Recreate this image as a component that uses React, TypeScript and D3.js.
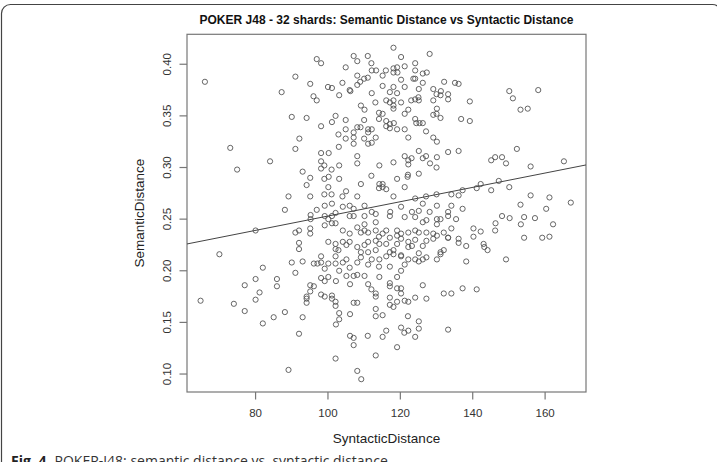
import React from "react";
import * as d3 from "d3";

// syntactic distance (x) vs semantic distance (y), one pair per shard comparison
const shardPairs: [number, number][] = [
  [118.1, 0.416], [107.1, 0.408], [111.0, 0.408], [128.1, 0.41], [96.9, 0.405],
  [98.1, 0.401], [108.1, 0.403], [120.2, 0.407], [112.0, 0.401], [124.1, 0.401],
  [119.1, 0.397], [118.1, 0.396], [121.2, 0.398], [104.9, 0.397], [112.1, 0.394],
  [113.3, 0.394], [116.0, 0.394], [118.1, 0.392], [119.2, 0.392], [124.1, 0.394],
  [126.2, 0.391], [127.3, 0.392], [91.0, 0.388], [108.1, 0.389], [111.0, 0.387],
  [110.0, 0.386], [108.9, 0.383], [115.1, 0.389], [120.2, 0.385], [123.6, 0.386],
  [124.1, 0.386], [126.2, 0.382], [132.1, 0.383], [135.1, 0.382], [136.1, 0.381],
  [95.1, 0.381], [104.0, 0.382], [100.0, 0.378], [101.1, 0.377], [108.1, 0.38],
  [115.1, 0.379], [118.1, 0.378], [121.2, 0.378], [125.1, 0.376], [129.1, 0.376],
  [131.2, 0.374], [130.0, 0.371], [131.1, 0.37], [133.2, 0.371], [133.2, 0.366],
  [87.2, 0.373], [106.0, 0.375], [106.2, 0.374], [112.1, 0.372], [103.1, 0.37],
  [117.1, 0.373], [119.1, 0.372], [96.0, 0.369], [96.9, 0.365], [109.1, 0.36],
  [110.1, 0.356], [113.1, 0.363], [116.1, 0.365], [117.1, 0.363], [118.1, 0.365],
  [118.1, 0.36], [118.1, 0.357], [120.2, 0.363], [122.2, 0.356], [123.0, 0.365],
  [124.1, 0.366], [125.0, 0.368], [125.1, 0.365], [129.1, 0.365], [130.1, 0.357],
  [130.0, 0.352], [129.1, 0.351], [131.1, 0.348], [90.0, 0.349], [94.1, 0.348],
  [102.1, 0.35], [101.1, 0.344], [98.1, 0.34], [104.9, 0.346], [114.1, 0.353],
  [115.1, 0.352], [114.1, 0.347], [116.1, 0.345], [116.1, 0.34], [117.1, 0.342],
  [117.1, 0.338], [118.2, 0.343], [119.1, 0.337], [121.2, 0.352], [121.2, 0.337],
  [124.1, 0.347], [124.4, 0.343], [125.3, 0.343], [126.2, 0.343], [127.1, 0.335],
  [129.1, 0.329], [130.1, 0.325], [133.2, 0.315], [136.1, 0.316], [110.0, 0.346],
  [109.0, 0.339], [108.1, 0.339], [107.1, 0.334], [107.1, 0.329], [107.1, 0.323],
  [104.9, 0.337], [104.9, 0.328], [102.9, 0.332], [111.1, 0.337], [112.1, 0.337],
  [111.1, 0.334], [113.2, 0.329], [112.1, 0.324], [111.1, 0.323], [110.0, 0.328],
  [92.1, 0.328], [91.0, 0.318], [103.0, 0.32], [122.2, 0.329], [98.1, 0.314],
  [100.2, 0.314], [108.1, 0.311], [108.1, 0.304], [98.1, 0.306], [99.0, 0.302],
  [103.1, 0.302], [101.0, 0.298], [98.1, 0.299], [114.2, 0.302], [118.1, 0.305],
  [121.2, 0.311], [122.2, 0.307], [122.2, 0.303], [123.1, 0.309], [125.1, 0.316],
  [126.2, 0.309], [127.1, 0.311], [130.1, 0.31], [128.2, 0.304], [130.0, 0.3],
  [125.1, 0.294], [93.0, 0.296], [95.1, 0.29], [94.1, 0.283], [99.0, 0.289],
  [100.2, 0.291], [103.1, 0.289], [100.1, 0.281], [122.1, 0.293], [122.0, 0.291],
  [112.0, 0.292], [109.1, 0.284], [114.2, 0.284], [115.1, 0.284], [114.1, 0.28],
  [115.1, 0.281], [116.1, 0.279], [119.1, 0.289], [121.2, 0.281], [89.1, 0.272],
  [95.1, 0.272], [99.0, 0.274], [101.0, 0.274], [104.0, 0.272], [105.0, 0.277],
  [108.1, 0.272], [118.1, 0.272], [124.1, 0.27], [127.1, 0.272], [130.0, 0.274],
  [134.1, 0.274], [136.1, 0.273],
  // middle band
  [88.1, 0.259], [96.9, 0.259], [99.1, 0.263], [101.1, 0.265], [104.1, 0.262],
  [106.0, 0.263], [107.1, 0.26], [110.1, 0.263], [112.1, 0.257], [113.2, 0.255],
  [117.2, 0.257], [120.2, 0.262], [125.1, 0.258], [126.2, 0.265], [128.1, 0.257],
  [130.1, 0.263], [133.2, 0.257], [134.1, 0.263], [95.2, 0.254], [95.2, 0.25],
  [99.1, 0.253], [100.1, 0.25], [101.1, 0.253], [102.1, 0.256], [106.0, 0.253],
  [107.1, 0.253], [110.1, 0.253], [113.2, 0.247], [117.1, 0.253], [121.2, 0.252],
  [123.2, 0.257], [124.1, 0.252], [126.2, 0.247], [127.2, 0.249], [130.1, 0.25],
  [130.1, 0.245], [131.1, 0.25], [133.2, 0.253], [135.4, 0.25], [91.0, 0.237],
  [92.0, 0.239], [95.1, 0.241], [95.1, 0.236], [99.1, 0.244], [101.1, 0.246],
  [102.1, 0.246], [104.1, 0.239], [106.0, 0.236], [108.1, 0.242], [109.1, 0.237],
  [110.1, 0.245], [110.1, 0.239], [111.1, 0.237], [113.2, 0.239], [114.1, 0.233],
  [115.1, 0.236], [116.1, 0.239], [117.1, 0.232], [119.1, 0.239], [119.1, 0.234],
  [120.2, 0.236], [122.2, 0.237], [124.1, 0.239], [125.1, 0.237], [127.2, 0.237],
  [129.1, 0.236], [130.1, 0.234], [132.0, 0.237], [133.2, 0.232], [134.1, 0.241],
  [136.1, 0.231], [92.0, 0.227], [92.0, 0.221], [100.1, 0.228], [102.1, 0.226],
  [102.1, 0.221], [102.9, 0.22], [104.1, 0.228], [105.1, 0.225], [106.0, 0.228],
  [108.1, 0.223], [109.1, 0.218], [110.1, 0.225], [111.1, 0.228], [111.1, 0.218],
  [113.2, 0.229], [113.2, 0.22], [114.2, 0.226], [116.1, 0.226], [117.1, 0.218],
  [118.1, 0.22], [119.1, 0.226], [120.2, 0.231], [120.2, 0.215], [122.2, 0.228],
  [122.2, 0.223], [123.2, 0.224], [124.1, 0.23], [125.1, 0.217], [126.2, 0.224],
  [127.2, 0.229], [129.1, 0.231], [131.1, 0.218], [132.0, 0.22], [133.2, 0.232],
  [136.1, 0.227], [90.0, 0.208], [91.0, 0.198], [93.0, 0.209], [96.1, 0.207],
  [97.1, 0.207], [98.1, 0.214], [98.1, 0.208], [99.1, 0.202], [100.1, 0.207],
  [102.1, 0.214], [102.1, 0.207], [104.1, 0.208], [105.1, 0.211], [106.0, 0.203],
  [108.1, 0.208], [109.1, 0.213], [111.1, 0.206], [112.1, 0.211], [114.1, 0.204],
  [114.2, 0.211], [116.1, 0.214], [117.1, 0.204], [118.1, 0.216], [120.2, 0.2],
  [120.2, 0.214], [121.2, 0.206], [122.2, 0.211], [124.1, 0.211], [125.1, 0.209],
  [126.2, 0.211], [127.2, 0.213], [130.1, 0.211], [131.1, 0.216], [103.1, 0.2],
  // lower band
  [98.1, 0.193], [99.1, 0.19], [100.1, 0.194], [102.2, 0.19], [105.1, 0.195],
  [106.1, 0.187], [107.1, 0.195], [108.1, 0.196], [110.1, 0.195], [111.1, 0.187],
  [112.0, 0.182], [113.2, 0.178], [114.2, 0.194], [117.1, 0.188], [117.1, 0.185],
  [119.1, 0.194], [119.1, 0.183], [120.2, 0.183], [120.2, 0.178], [126.2, 0.186],
  [94.1, 0.175], [94.1, 0.173], [95.1, 0.186], [95.1, 0.18], [96.1, 0.185],
  [98.1, 0.177], [99.1, 0.175], [101.1, 0.176], [101.1, 0.173], [102.1, 0.17],
  [107.1, 0.169], [108.1, 0.169], [113.2, 0.175], [117.1, 0.174], [119.1, 0.17],
  [121.2, 0.171], [122.2, 0.17], [124.1, 0.174], [127.2, 0.173], [132.0, 0.178],
  [134.1, 0.178], [94.1, 0.169], [88.1, 0.16], [93.0, 0.155], [102.1, 0.166],
  [103.1, 0.159], [103.1, 0.153], [102.2, 0.148], [106.1, 0.158], [113.2, 0.163],
  [113.2, 0.156], [115.1, 0.157], [117.1, 0.167], [118.1, 0.165], [122.1, 0.156],
  [92.0, 0.139], [106.1, 0.137], [107.1, 0.135], [107.1, 0.128], [111.0, 0.137],
  [115.1, 0.136], [116.1, 0.142], [120.2, 0.145], [121.1, 0.14], [122.2, 0.142],
  [124.1, 0.136], [125.1, 0.151], [125.1, 0.144], [133.2, 0.143], [119.1, 0.126],
  [89.1, 0.104], [102.1, 0.115], [113.2, 0.118], [108.1, 0.103], [109.2, 0.095],
  // low syntactic distance
  [66.0, 0.383], [73.0, 0.319], [74.9, 0.298], [84.0, 0.306], [80.0, 0.239],
  [70.0, 0.216], [82.0, 0.203], [80.0, 0.192], [85.9, 0.192], [77.0, 0.186],
  [85.9, 0.185], [81.1, 0.179], [80.0, 0.172], [64.8, 0.171], [74.0, 0.168],
  [77.0, 0.161], [82.0, 0.149], [85.0, 0.155],
  // high syntactic distance
  [139.2, 0.364], [136.8, 0.347], [139.2, 0.345], [150.1, 0.374], [151.1, 0.367],
  [158.1, 0.375], [153.2, 0.356], [155.2, 0.357], [152.2, 0.318], [145.1, 0.307],
  [146.2, 0.31], [148.1, 0.31], [149.2, 0.304], [156.0, 0.301], [165.2, 0.306],
  [137.2, 0.278], [141.1, 0.28], [142.2, 0.284], [147.2, 0.287], [145.1, 0.278],
  [150.1, 0.281], [156.0, 0.273], [161.2, 0.271], [137.2, 0.26], [153.2, 0.264],
  [160.3, 0.26], [167.1, 0.266], [148.1, 0.253], [150.2, 0.251], [154.2, 0.252],
  [157.2, 0.251], [146.3, 0.246], [153.3, 0.245], [162.2, 0.245], [140.2, 0.241],
  [142.2, 0.238], [146.2, 0.239], [140.2, 0.233], [138.2, 0.224], [143.0, 0.226],
  [143.2, 0.223], [144.1, 0.22], [154.2, 0.232], [159.2, 0.232], [161.2, 0.233],
  [138.2, 0.209], [149.2, 0.211], [137.2, 0.183], [141.1, 0.182],
];

// lm(SemanticDistance ~ SyntacticDistance)
const fitIntercept = 0.1836;
const fitSlope = 0.000694;

const xLimits = [61.05, 171.3];
const yLimits = [0.0826, 0.429];
const xTicks = [80, 100, 120, 140, 160];
const yTicks = [0.1, 0.15, 0.2, 0.25, 0.3, 0.35, 0.4];

const W = 717;
const H = 462;
const box = { left: 187, right: 586, top: 34.3, bottom: 392 };
const font = "'Liberation Sans', Arial, Helvetica, sans-serif";

export default function App() {
  const x = d3.scaleLinear().domain(xLimits).range([box.left, box.right]);
  const y = d3.scaleLinear().domain(yLimits).range([box.bottom, box.top]);

  const fitLine = d3
    .line<number>()
    .x((d) => x(d))
    .y((d) => y(fitIntercept + fitSlope * d))(xLimits);

  return (
    <svg
      width={W}
      height={H}
      style={{ position: "absolute", left: 0, top: 0, background: "#fff" }}
    >
      {/* figure frame */}
      <rect x={1.5} y={4.5} width={720} height={500} rx={9} fill="none" stroke="#444" strokeWidth={1.2} />

      <text
        x={(box.left + box.right) / 2}
        y={24}
        textAnchor="middle"
        fontFamily={font}
        fontWeight="bold"
        fontSize={13.5}
        textLength={374}
        lengthAdjust="spacingAndGlyphs"
        fill="#111"
      >
        POKER J48 - 32 shards: Semantic Distance vs Syntactic Distance
      </text>

      <rect
        x={box.left}
        y={box.top}
        width={box.right - box.left}
        height={box.bottom - box.top}
        fill="none"
        stroke="#777"
        strokeWidth={1.2}
      />

      {/* x axis */}
      <g fontFamily={font} fontSize={11.5} fill="#333">
        {xTicks.map((t) => (
          <g key={t}>
            <line x1={x(t)} x2={x(t)} y1={box.bottom} y2={box.bottom + 7.5} stroke="#777" strokeWidth={1.2} />
            <text x={x(t)} y={417} textAnchor="middle">
              {t}
            </text>
          </g>
        ))}
      </g>
      <text x={(box.left + box.right) / 2} y={443} textAnchor="middle" fontFamily={font} fontSize={13.5} fill="#222">
        SyntacticDistance
      </text>

      {/* y axis */}
      <g fontFamily={font} fontSize={11.5} fill="#333">
        {yTicks.map((t) => (
          <g key={t}>
            <line x1={box.left - 7.5} x2={box.left} y1={y(t)} y2={y(t)} stroke="#777" strokeWidth={1.2} />
            <text transform={`translate(171,${y(t)}) rotate(-90)`} textAnchor="middle">
              {t.toFixed(2)}
            </text>
          </g>
        ))}
      </g>
      <text
        transform={`translate(144,${(box.top + box.bottom) / 2}) rotate(-90)`}
        textAnchor="middle"
        fontFamily={font}
        fontSize={13.5}
        fill="#222"
      >
        SemanticDistance
      </text>

      {/* points */}
      <g fill="none" stroke="#555" strokeWidth={0.9}>
        {shardPairs.map(([sx, sy], i) => (
          <circle key={i} cx={x(sx)} cy={y(sy)} r={2.6} />
        ))}
      </g>

      <path d={fitLine ?? ""} fill="none" stroke="#444" strokeWidth={1} />

      {/* caption */}
      <text x={11} y={466} fontFamily="'Open Sans', 'Noto Sans', sans-serif" fontSize={14} fill="#333">
        <tspan fontWeight="bold" fill="#222">Fig. 4</tspan>
        <tspan dx={8}>POKER-J48: semantic distance vs. syntactic distance</tspan>
      </text>
    </svg>
  );
}
